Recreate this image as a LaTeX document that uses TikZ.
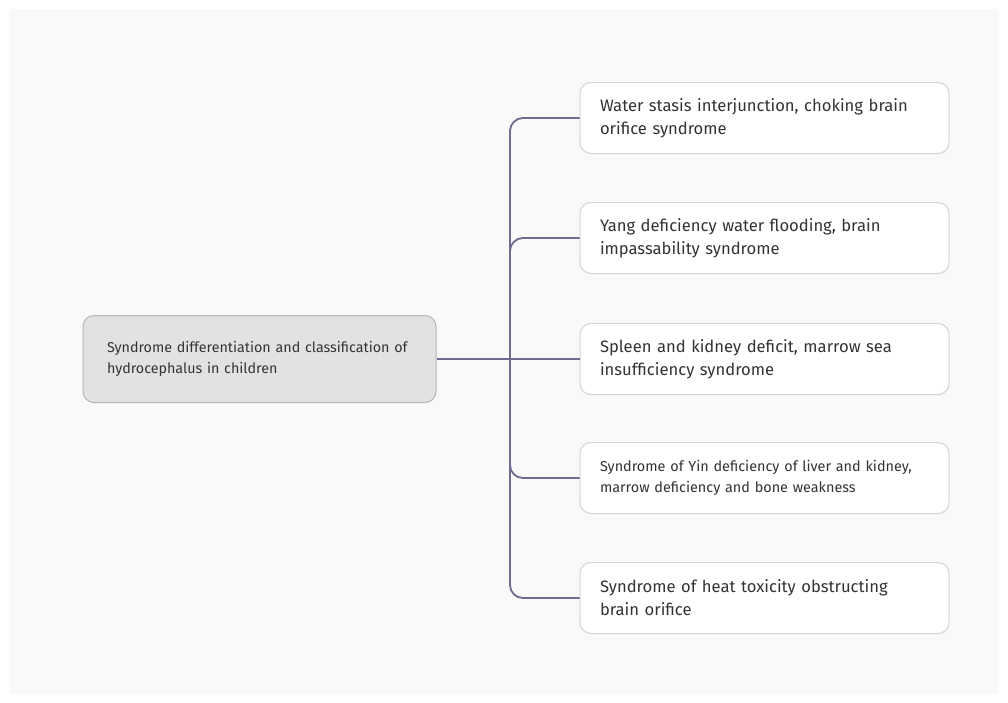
\documentclass[tikz,border=0pt]{standalone}
\usepackage{fontspec}
\setmainfont{Fira Sans}
\definecolor{pagebg}{HTML}{F9F9F9}
\definecolor{rootfill}{HTML}{E2E2E2}
\definecolor{rootline}{HTML}{B5B5B5}
\definecolor{leafline}{HTML}{D4D4D4}
\definecolor{branch}{HTML}{6E6B90}
\definecolor{ink}{HTML}{333333}
\tikzset{
  rootbox/.style={draw=rootline, fill=rootfill, line width=1pt, rounded corners=11pt,
    minimum width=353pt, minimum height=87pt, text width=305pt, align=left,
    font=\fontsize{14.3}{21.5}\selectfont, text=ink},
  leafbox/.style={draw=leafline, fill=white, line width=1pt, rounded corners=11pt,
    minimum width=369pt, minimum height=71pt, text width=329pt, align=left,
    font=\fontsize{16.6}{23}\selectfont, text=ink},
  smallleaf/.style={leafbox, font=\fontsize{14.4}{20.5}\selectfont},
  conn/.style={draw=branch, line width=1.8pt, rounded corners=13pt}
}
\begin{document}
\begin{tikzpicture}[x=1pt,y=-1pt]
\useasboundingbox (0,0) rectangle (1008,702);
\fill[pagebg] (9,9) rectangle (999,694);

\node[rootbox] (root) at (259.5,359)
  {Syndrome differentiation and classification of\\hydrocephalus in children};

\node[leafbox] (c1) at (764.5,118)
  {Water stasis interjunction, choking brain\\orifice syndrome};
\node[leafbox] (c2) at (764.5,238)
  {Yang deficiency water flooding, brain\\impassability syndrome};
\node[leafbox] (c3) at (764.5,359)
  {Spleen and kidney deficit, marrow sea\\insufficiency syndrome};
\node[smallleaf] (c4) at (764.5,478)
  {Syndrome of Yin deficiency of liver and kidney,\\marrow deficiency and bone weakness};
\node[leafbox] (c5) at (764.5,598)
  {Syndrome of heat toxicity obstructing\\brain orifice};

\coordinate (j) at (510,359);
\draw[conn] (root.east) -- (c3.west);
\foreach \c in {c1,c2,c4,c5}
  \draw[conn] (j) |- (\c.west);
\end{tikzpicture}
\end{document}
